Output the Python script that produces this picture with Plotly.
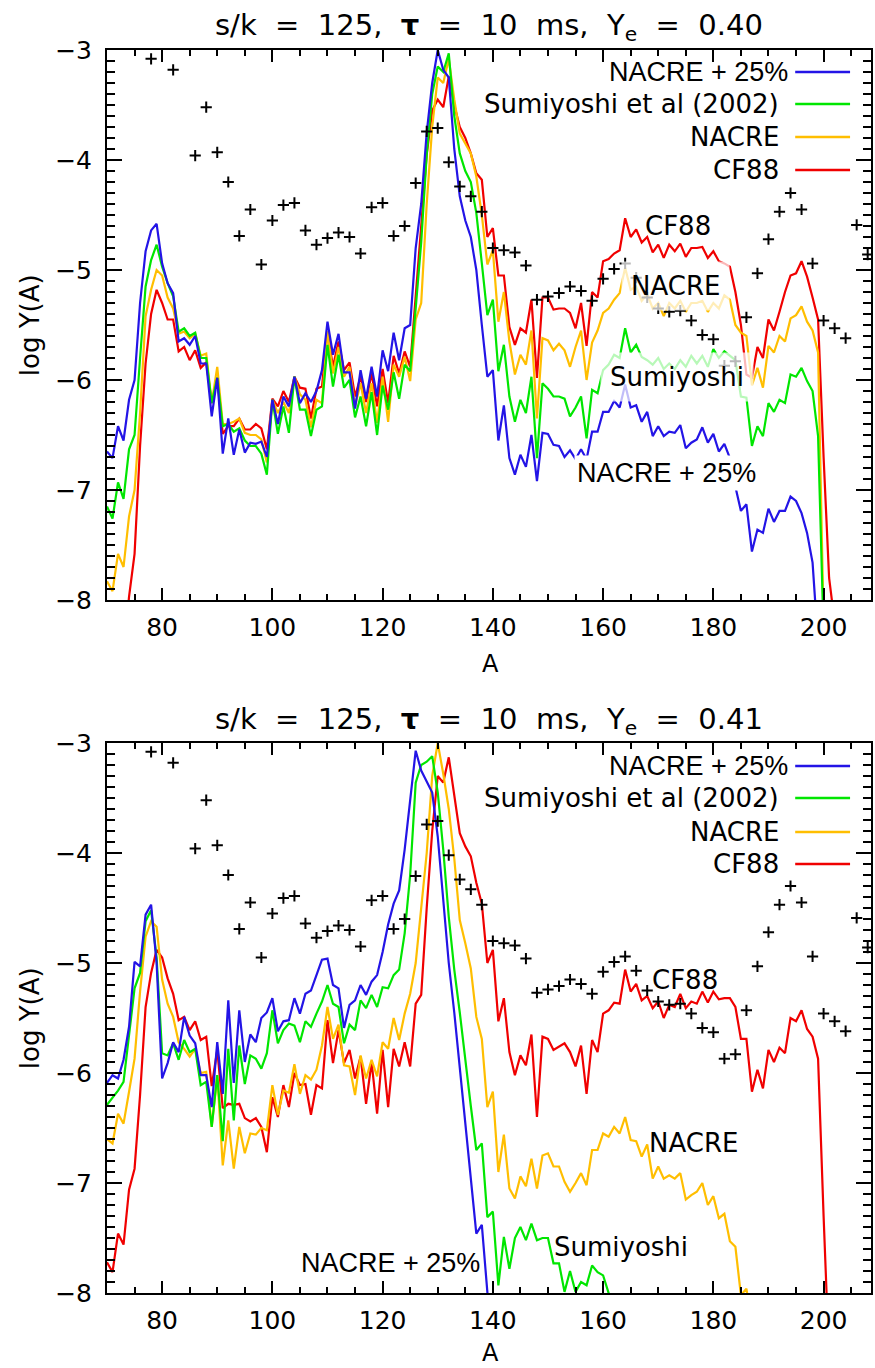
import plotly.graph_objects as go

# ---------------- data ----------------
A_SOLAR = [78, 82, 86, 88, 90, 92, 94, 96, 98, 100, 102, 104, 106, 108, 110, 112, 114, 116, 118, 120,
           122, 124, 126, 128, 130, 132, 134, 136, 138, 140, 142, 144, 146, 148, 150, 152, 154, 156, 158, 160,
           162, 164, 166, 168, 170, 172, 174, 176, 178, 180, 182, 184, 186, 188, 190, 192, 194, 196, 198, 200,
           202, 204, 206, 208]
LOGY_SOLAR = [-3.08, -3.18, -3.96, -3.52, -3.93, -4.20, -4.69, -4.45, -4.95, -4.55, -4.41, -4.39, -4.64, -4.77,
              -4.71, -4.66, -4.70, -4.85, -4.43, -4.39, -4.69, -4.60, -4.21, -3.74, -3.71, -4.02, -4.24, -4.33,
              -4.47, -4.80, -4.82, -4.84, -4.96, -5.27, -5.24, -5.21, -5.15, -5.19, -5.28, -5.08, -4.99, -4.94,
              -5.07, -5.25, -5.35, -5.38, -5.37, -5.46, -5.59, -5.63, -5.87, -5.83, -5.43, -5.03, -4.72, -4.47,
              -4.30, -4.45, -4.94, -5.46, -5.53, -5.62, -4.59, -4.86]

# ---- Ye = 0.40 ----
A_TOP_BLUE = list(range(70, 200))
TOP_BLUE = [-6.65, -6.71, -6.42, -6.55, -6.18, -6.00, -5.30, -4.83, -4.64, -4.58,
            -4.94, -5.12, -5.21, -5.65, -5.62, -5.68, -5.60, -5.85, -5.85, -6.33,
            -5.98, -6.67, -6.35, -6.68, -6.45, -6.66, -6.57, -6.58, -6.56, -6.70,
            -6.18, -6.40, -6.15, -6.24, -5.97, -6.21, -6.12, -6.20, -6.10, -5.91,
            -5.47, -5.77, -5.58, -5.93, -5.93, -6.26, -5.91, -6.17, -5.88, -6.15,
            -5.73, -5.92, -5.57, -5.82, -5.53, -5.50, -4.80, -4.40, -3.75, -3.30,
            -3.00, -3.18, -3.25, -3.90, -4.33, -4.55, -4.70, -5.00, -5.50, -5.97,
            -5.91, -6.55, -6.23, -6.71, -6.86, -6.68, -6.79, -6.50, -6.92, -6.48,
            -6.49, -6.59, -6.60, -6.70, -6.64, -6.72, -6.63, -6.72, -6.47, -6.47,
            -6.29, -6.29, -6.19, -6.25, -6.04, -6.25, -6.23, -6.38, -6.29, -6.51,
            -6.42, -6.51, -6.47, -6.48, -6.41, -6.62, -6.57, -6.54, -6.43, -6.57,
            -6.49, -6.65, -6.58, -6.71, -6.97, -7.19, -7.13, -7.56, -7.36, -7.39,
            -7.17, -7.29, -7.19, -7.19, -7.06, -7.10, -7.21, -7.39, -7.66, -8.40]

A_TOP_GREEN = list(range(70, 201))
TOP_GREEN = [-7.15, -7.26, -6.93, -7.08, -6.63, -6.50, -5.80, -5.15, -4.91, -4.77,
             -4.97, -5.12, -5.24, -5.56, -5.53, -5.60, -5.57, -5.80, -5.80, -6.21,
             -5.98, -6.42, -6.40, -6.47, -6.44, -6.55, -6.60, -6.60, -6.67, -6.86,
             -6.18, -6.49, -6.24, -6.48, -5.97, -6.27, -6.27, -6.51, -6.27, -6.24,
             -5.68, -6.06, -5.77, -6.07, -6.00, -6.34, -6.15, -6.42, -6.11, -6.50,
             -6.05, -6.27, -5.93, -6.17, -5.86, -5.92, -5.35, -4.75, -3.95, -3.40,
             -3.15, -3.20, -3.03, -3.60, -3.94, -4.10, -4.20, -4.48, -4.94, -5.41,
             -5.27, -5.92, -5.68, -6.15, -6.38, -6.18, -6.30, -5.97, -6.71, -6.03,
             -6.08, -6.15, -6.15, -6.17, -6.33, -6.25, -6.15, -6.53, -6.09, -6.12,
             -5.91, -5.86, -5.77, -5.80, -5.53, -5.75, -5.68, -5.79, -5.82, -5.86,
             -5.80, -5.90, -5.85, -5.90, -5.82, -5.88, -5.78, -5.85, -5.78, -5.88,
             -5.72, -5.80, -5.74, -5.78, -5.82, -6.15, -6.16, -6.60, -6.42, -6.51,
             -6.21, -6.29, -6.18, -6.21, -5.95, -5.97, -5.89, -6.01, -6.10, -6.51,
             -8.30]

A_TOP_ORANGE = list(range(70, 201))
TOP_ORANGE = [-7.83, -7.92, -7.58, -7.70, -7.24, -7.00, -6.30, -5.42, -5.18, -5.00,
              -5.05, -5.25, -5.35, -5.58, -5.56, -5.62, -5.58, -5.78, -5.76, -6.21,
              -5.88, -6.40, -6.40, -6.38, -6.35, -6.48, -6.50, -6.50, -6.54, -6.75,
              -6.18, -6.30, -6.20, -6.30, -5.97, -6.13, -6.18, -6.43, -6.18, -6.21,
              -5.56, -5.94, -5.70, -5.97, -5.88, -6.24, -6.03, -6.30, -6.03, -6.39,
              -5.97, -6.38, -5.86, -5.97, -5.79, -6.01, -5.45, -5.30, -4.40, -3.70,
              -3.25, -3.30, -3.08, -3.45, -3.76, -3.85, -3.94, -4.15, -4.50, -4.95,
              -4.82, -5.47, -5.20, -5.65, -5.95, -5.77, -5.86, -5.55, -6.35, -5.62,
              -5.64, -5.73, -5.67, -5.73, -5.88, -5.70, -5.55, -6.00, -5.66, -5.55,
              -5.39, -5.35, -5.27, -5.21, -4.98, -5.18, -5.15, -5.28, -5.22, -5.35,
              -5.30, -5.42, -5.30, -5.35, -5.28, -5.38, -5.30, -5.30, -5.28, -5.38,
              -5.30, -5.35, -5.23, -5.27, -5.50, -5.57, -5.60, -6.05, -5.89, -6.07,
              -5.69, -5.75, -5.60, -5.65, -5.44, -5.41, -5.33, -5.47, -5.55, -5.75,
              -8.20]

A_TOP_RED = list(range(73, 203))
TOP_RED = [-8.50, -7.97, -7.58, -6.60, -5.85, -5.40, -5.18,
           -5.30, -5.45, -5.45, -5.74, -5.70, -5.82, -5.73, -5.89, -5.84, -6.21,
           -5.98, -6.49, -6.42, -6.42, -6.35, -6.45, -6.45, -6.40, -6.44, -6.63,
           -6.17, -6.24, -6.10, -6.20, -5.97, -6.07, -6.08, -6.35, -6.08, -6.06,
           -5.56, -5.88, -5.65, -5.91, -5.84, -6.15, -5.97, -6.20, -5.94, -6.24,
           -5.90, -6.21, -5.78, -5.94, -5.74, -5.88, -5.20, -4.60, -3.95, -3.55,
           -3.45, -3.52, -3.24, -3.50, -3.70, -3.80, -3.94, -4.12, -4.18, -4.70,
           -4.62, -5.05, -5.05, -5.52, -5.68, -5.53, -5.57, -5.27, -5.98, -5.25,
           -5.25, -5.36, -5.35, -5.35, -5.39, -5.53, -5.30, -5.69, -5.20, -5.25,
           -4.92, -4.90, -4.85, -4.82, -4.53, -4.70, -4.63, -4.75, -4.70, -4.84,
           -4.77, -4.89, -4.77, -4.83, -4.76, -4.88, -4.80, -4.80, -4.79, -4.89,
           -4.83, -4.92, -4.94, -4.97, -5.20, -5.50, -5.95, -5.98, -5.70, -5.80,
           -5.45, -5.55, -5.38, -5.20, -5.05, -5.03, -4.92, -5.06, -5.25, -5.45,
           -6.70, -7.80, -8.20]

# ---- Ye = 0.41 ----
A_BOT_BLUE = list(range(70, 141))
BOT_BLUE = [-6.09, -6.02, -6.05, -5.88, -5.58, -4.99, -5.03, -4.56, -4.47, -5.00,
            -6.05, -5.91, -5.72, -5.81, -5.49, -5.66, -5.73, -6.02, -6.02, -6.31,
            -5.72, -6.19, -5.34, -6.09, -5.43, -5.90, -5.65, -5.72, -5.50, -5.45,
            -5.32, -5.62, -5.53, -5.52, -5.32, -5.46, -5.28, -5.25, -5.11, -4.97,
            -4.96, -5.20, -5.23, -5.59, -5.38, -5.34, -5.20, -5.29, -5.17, -5.11,
            -4.90, -4.65, -4.46, -4.34, -3.97, -3.49, -3.07, -3.25, -3.35, -3.45,
            -3.85, -4.45, -5.00, -5.45, -5.95, -6.45, -6.95, -7.46, -7.38, -8.00,
            -8.60]

A_BOT_GREEN = list(range(70, 163))
BOT_GREEN = [-6.29, -6.23, -6.16, -6.08, -5.67, -5.23, -5.09, -4.62, -4.52, -4.95,
             -5.82, -5.84, -5.73, -5.88, -5.70, -5.81, -5.78, -6.11, -6.08, -6.49,
             -6.02, -6.62, -5.78, -6.43, -5.75, -6.10, -5.84, -5.87, -5.96, -5.82,
             -5.43, -5.73, -5.61, -5.55, -5.57, -5.72, -5.53, -5.58, -5.46, -5.35,
             -5.20, -5.37, -5.40, -5.73, -5.56, -5.61, -5.34, -5.41, -5.29, -5.40,
             -5.22, -5.23, -5.11, -5.06, -4.73, -4.20, -3.36, -3.20, -3.17, -3.12,
             -3.45, -3.97, -4.58, -5.06, -5.45, -5.90, -6.30, -6.70, -6.64, -7.31,
             -7.26, -7.93, -7.49, -7.78, -7.50, -7.40, -7.52, -7.37, -7.52, -7.50,
             -7.50, -7.73, -7.73, -7.99, -7.80, -7.99, -7.90, -7.93, -7.75, -7.81,
             -7.84, -8.00, -8.40]

A_BOT_ORANGE = list(range(70, 188))
BOT_ORANGE = [-6.60, -6.64, -6.37, -6.46, -6.17, -5.87, -5.26, -4.76, -4.62, -4.67,
              -5.15, -5.37, -5.49, -5.72, -5.78, -5.85, -5.78, -6.00, -5.99, -6.49,
              -6.02, -6.84, -6.43, -6.87, -6.49, -6.73, -6.55, -6.56, -6.50, -6.52,
              -6.11, -6.38, -6.16, -6.18, -5.92, -6.19, -6.02, -6.06, -5.97, -5.75,
              -5.40, -5.69, -5.56, -5.93, -5.94, -6.20, -5.84, -6.05, -5.88, -6.03,
              -5.72, -5.78, -5.50, -5.70, -5.46, -5.28, -5.00, -4.50, -4.00, -3.30,
              -3.00, -3.28, -3.60, -4.05, -4.61, -4.82, -5.05, -5.49, -5.69, -6.31,
              -6.17, -6.90, -6.56, -7.05, -7.14, -6.94, -7.03, -6.78, -7.05, -6.75,
              -6.73, -6.85, -6.85, -6.99, -7.08, -7.00, -6.91, -7.02, -6.70, -6.70,
              -6.55, -6.58, -6.49, -6.55, -6.40, -6.61, -6.62, -6.76, -6.65, -6.96,
              -6.85, -6.96, -6.93, -6.96, -6.91, -7.15, -7.11, -7.08, -7.00, -7.20,
              -7.12, -7.32, -7.28, -7.53, -7.58, -8.02, -7.96, -8.30]

A_BOT_RED = list(range(70, 202))
BOT_RED = [-7.72, -7.81, -7.46, -7.56, -7.06, -6.87, -6.20, -5.40, -5.09, -4.88,
           -4.95, -5.14, -5.28, -5.52, -5.49, -5.61, -5.53, -5.70, -5.67, -6.12,
           -5.79, -6.32, -6.28, -6.29, -6.28, -6.41, -6.44, -6.41, -6.49, -6.72,
           -6.22, -6.40, -6.11, -6.31, -6.00, -6.11, -6.10, -6.38, -6.11, -6.14,
           -5.52, -5.91, -5.61, -5.91, -5.79, -6.05, -5.85, -6.28, -5.90, -6.37,
           -5.79, -6.31, -5.78, -5.94, -5.72, -5.94, -5.37, -5.29, -4.50, -3.80,
           -3.30, -3.36, -3.13, -3.49, -3.82, -3.94, -4.03, -4.27, -4.46, -5.00,
           -4.88, -5.53, -5.32, -5.81, -6.02, -5.84, -5.93, -5.65, -6.40, -5.67,
           -5.69, -5.79, -5.76, -5.73, -5.81, -5.94, -5.75, -6.19, -5.70, -5.81,
           -5.46, -5.43, -5.36, -5.37, -5.06, -5.26, -5.19, -5.34, -5.30, -5.41,
           -5.35, -5.50, -5.38, -5.40, -5.28, -5.41, -5.35, -5.37, -5.26, -5.36,
           -5.26, -5.33, -5.32, -5.32, -5.40, -5.69, -5.69, -6.17, -5.97, -6.14,
           -5.79, -5.90, -5.77, -5.82, -5.50, -5.53, -5.43, -5.60, -5.67, -5.87,
           -7.30, -8.60]

SERIES_NAMES = ["NACRE + 25%", "Sumiyoshi et al (2002)", "NACRE", "CF88"]
YE_VALUES = ["0.40", "0.41"]

# ---------------- style ----------------
BLUE = "rgb(35,20,230)"
GREEN = "rgb(0,230,0)"
ORANGE = "rgb(255,190,0)"
RED = "rgb(240,0,0)"
FONT = "DejaVu Sans"
FONT2 = "Liberation Sans"

W, H = 875, 1368
L, R, T, B = 107, 873, 50, 1293   # pixel frame of the plotting region


def px(x):
    return (x - L) / (R - L)


def py(y):
    return (B - y) / (B - T)


fig = go.Figure()

panels = [
    ("x", "y", [(A_TOP_RED, TOP_RED, RED), (A_TOP_ORANGE, TOP_ORANGE, ORANGE),
                (A_TOP_GREEN, TOP_GREEN, GREEN), (A_TOP_BLUE, TOP_BLUE, BLUE)]),
    ("x2", "y2", [(A_BOT_RED, BOT_RED, RED), (A_BOT_ORANGE, BOT_ORANGE, ORANGE),
                  (A_BOT_GREEN, BOT_GREEN, GREEN), (A_BOT_BLUE, BOT_BLUE, BLUE)]),
]
for xa, ya, series in panels:
    for xs, ys, col in series:
        fig.add_trace(go.Scatter(x=xs, y=ys, mode="lines", xaxis=xa, yaxis=ya,
                                 line=dict(color=col, width=2.2), showlegend=False,
                                 hoverinfo="skip"))
    fig.add_trace(go.Scatter(x=A_SOLAR, y=LOGY_SOLAR, mode="markers", xaxis=xa, yaxis=ya,
                             marker=dict(symbol="cross-thin", size=8,
                                         line=dict(color="black", width=2)),
                             showlegend=False, hoverinfo="skip", cliponaxis=True))

tickfont = dict(family=FONT, size=25, color="black")
xcommon = dict(range=[70, 208.6], tick0=0, dtick=20, ticks="inside", ticklen=12, tickwidth=2,
               showline=True, linewidth=2, linecolor="black", mirror="ticks",
               showgrid=False, zeroline=False, tickfont=tickfont, ticklabelstandoff=4,
               minor=dict(dtick=5, ticks="inside", ticklen=6, tickwidth=1.5, tickcolor="black"),
               tickcolor="black")
ycommon = dict(range=[-8, -3], dtick=1, ticks="inside", ticklen=15, tickwidth=2,
               showline=True, linewidth=2, linecolor="black", mirror="ticks",
               showgrid=False, zeroline=False, tickfont=tickfont, ticklabelstandoff=8,
               minor=dict(dtick=0.1, ticks="inside", ticklen=8, tickwidth=1.5, tickcolor="black"),
               tickcolor="black")

top_lo = py(600)
bot_hi = py(743)
fig.update_layout(
    width=W, height=H,
    margin=dict(l=L, r=W - R, t=T, b=H - B, pad=0),
    paper_bgcolor="white", plot_bgcolor="white",
    xaxis=dict(domain=[0, 1], anchor="y", **xcommon),
    yaxis=dict(domain=[top_lo, 1], anchor="x", **ycommon),
    xaxis2=dict(domain=[0, 1], anchor="y2", **xcommon),
    yaxis2=dict(domain=[0, bot_hi], anchor="x2", **ycommon),
    showlegend=False,
)

ann = []
shapes = []
sp = "\u00a0\u00a0"


def title_text(ye):
    return ("s/k" + sp + "=" + sp + "125," + sp + "<b>τ</b>" + sp + "=" + sp + "10" + sp + "ms,"
            + sp + "Y<sub>e</sub>" + sp + "=" + sp + ye)


for ye, ty in zip(YE_VALUES, [27, 721]):
    ann.append(dict(text=title_text(ye), x=px(490), y=py(ty), xref="paper", yref="paper",
                    showarrow=False, xanchor="center", yanchor="middle",
                    font=dict(family=FONT, size=29, color="black")))

for ty in [664, 1353]:
    ann.append(dict(text="A", x=px(492), y=py(ty), xref="paper", yref="paper", showarrow=False,
                    xanchor="center", yanchor="middle", font=dict(family=FONT, size=24, color="black")))
for ty in [325, 1018]:
    ann.append(dict(text="log Y(A)", x=px(30), y=py(ty), xref="paper", yref="paper", showarrow=False,
                    textangle=-90, xanchor="center", yanchor="middle",
                    font=dict(family=FONT, size=26, color="black")))

# legends (text right-aligned, line sample to the right)
colors = [BLUE, GREEN, ORANGE, RED]
for rows in [[72, 104, 137, 170], [766, 798, 832, 864]]:
    for name, col, ry in zip(SERIES_NAMES, colors, rows):
        first = name == SERIES_NAMES[0]
        ann.append(dict(text=name, x=px(792 if first else 783), y=py(ry), xref="paper", yref="paper",
                        showarrow=False, xanchor="right", yanchor="middle",
                        font=dict(family=FONT2 if first else FONT, size=27 if first else 26,
                                  color="black")))
        shapes.append(dict(type="line", xref="paper", yref="paper", x0=px(797), x1=px(852),
                           y0=py(ry), y1=py(ry), line=dict(color=col, width=2.5)))

# in-plot curve labels
labels = [
    ("CF88", 679, 226, FONT, 26, "rgba(255,255,255,0)", 1),
    ("NACRE", 677, 286, FONT, 26, "rgba(255,255,255,0.72)", 9),
    ("Sumiyoshi", 678, 377, FONT, 26, "rgba(255,255,255,0.72)", 9),
    ("NACRE + 25%", 668, 473, FONT2, 27, "rgba(255,255,255,1)", 2),
    ("CF88", 687, 980, FONT, 26, "rgba(255,255,255,0)", 1),
    ("NACRE", 695, 1143, FONT, 26, "rgba(255,255,255,0)", 1),
    ("Sumiyoshi", 622, 1247, FONT, 26, "rgba(255,255,255,0)", 1),
    ("NACRE + 25%", 391, 1263, FONT2, 27, "rgba(255,255,255,0)", 1),
]
for text, lx, ly, fam, fs, bg, bp in labels:
    ann.append(dict(text=text, x=px(lx), y=py(ly), xref="paper", yref="paper", showarrow=False,
                    xanchor="center", yanchor="middle", bgcolor=bg, borderpad=bp,
                    font=dict(family=fam, size=fs, color="black")))

fig.update_layout(annotations=ann, shapes=shapes)
fig.write_html("out.html")
